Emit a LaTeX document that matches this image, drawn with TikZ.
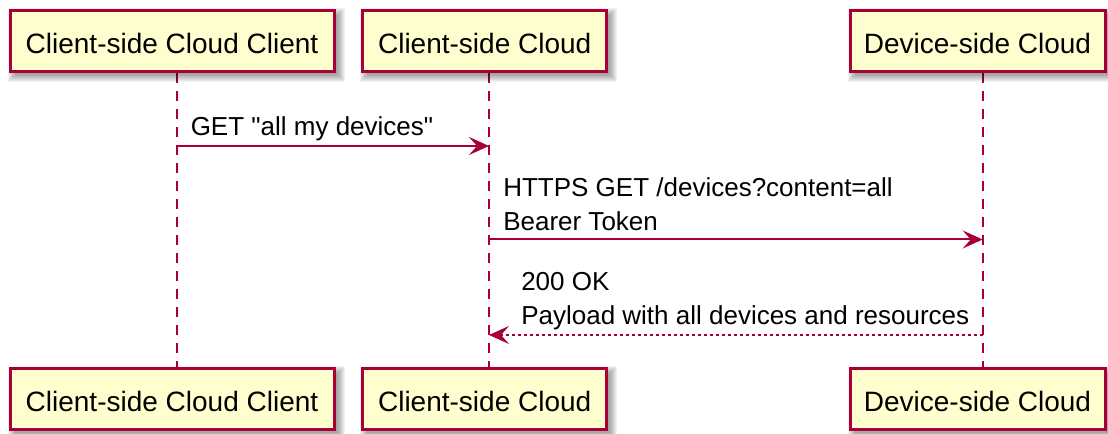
\documentclass[tikz,border=0pt]{standalone}
\usepackage{fontspec}
\setmainfont{Liberation Sans}[Ligatures=TeXOff]
\usetikzlibrary{arrows.meta,backgrounds,calc}
\definecolor{umlborder}{HTML}{A80036}
\definecolor{umlfill}{HTML}{FEFECE}

\begin{document}
\begin{tikzpicture}[x=0.75pt,y=-0.75pt,
  participant/.style={draw=umlborder, fill=umlfill, line width=2.25pt, inner sep=0pt,
    minimum height=45.75pt, text height=18.5pt, text depth=0pt,
    font=\fontsize{21pt}{25pt}\selectfont},
  lifeline/.style={draw=umlborder, line width=1.5pt, dash pattern=on 7.5pt off 6pt},
  message/.style={draw=umlborder, line width=1.5pt,
    -{Stealth[length=15pt,width=13.5pt,inset=6pt]}},
  reply/.style={message, dash pattern=on 2.25pt off 2.25pt},
  msgtext/.style={anchor=base west, inner sep=0pt, align=left,
    font=\fontsize{19.5pt}{25.5pt}\selectfont},
]
\useasboundingbox (0,0) rectangle (1108,434);

% participants, top row and bottom row
\node[participant, minimum width=243pt] (a1) at (172,41) {Client-side Cloud Client};
\node[participant, minimum width=183pt] (b1) at (484.7,41) {Client-side Cloud};
\node[participant, minimum width=191.25pt] (c1) at (977.5,41) {Device-side Cloud};
\node[participant, minimum width=243pt] (a2) at (172,399.5) {Client-side Cloud Client};
\node[participant, minimum width=183pt] (b2) at (484.7,399.5) {Client-side Cloud};
\node[participant, minimum width=191.25pt] (c2) at (977.5,399.5) {Device-side Cloud};

% lifeline end points
\coordinate (la1) at ([shift={(4.7,0)}]a1.south);
\coordinate (la2) at ([shift={(4.7,0)}]a2.north);
\coordinate (lb1) at ([shift={(4.3,0)}]b1.south);
\coordinate (lb2) at ([shift={(4.3,0)}]b2.north);
\coordinate (lc1) at ([shift={(5.2,0)}]c1.south);
\coordinate (lc2) at ([shift={(5.2,0)}]c2.north);

\begin{scope}[on background layer]
  \draw[lifeline] (la1) -- (la2);
  \draw[lifeline] (lb1) -- (lb2);
  \draw[lifeline] (lc1) -- (lc2);
  % soft drop shadows behind the participant boxes
  \foreach \n in {a1,b1,c1,a2,b2,c2} {
    \foreach \k in {-2,...,5} {
      \fill[black, opacity=0.05]
        ($(\n.north west)+(4-\k,4-\k)$) rectangle ($(\n.south east)+(4+\k,4+\k)$);
    }
  }
\end{scope}

% message rows
\coordinate (r1) at (0,146);
\coordinate (r2) at (0,239.5);
\coordinate (r3) at (0,335);

\draw[message] (la1 |- r1) -- (lb1 |- r1);
\draw[message] (lb1 |- r2) -- (lc1 |- r2);
\draw[reply] (lc1 |- r3) -- (lb1 |- r3);

% labels are anchored on the baseline of their last line
\node[msgtext] (t1) at (190.5,136) {GET "all my devices"};
\node[msgtext] (t2) at (503,230.5) {HTTPS GET /devices?content=all\\Bearer Token};
\node[msgtext] (t3) at (521,325) {200 OK\\Payload with all devices and resources};
\end{tikzpicture}
\end{document}
